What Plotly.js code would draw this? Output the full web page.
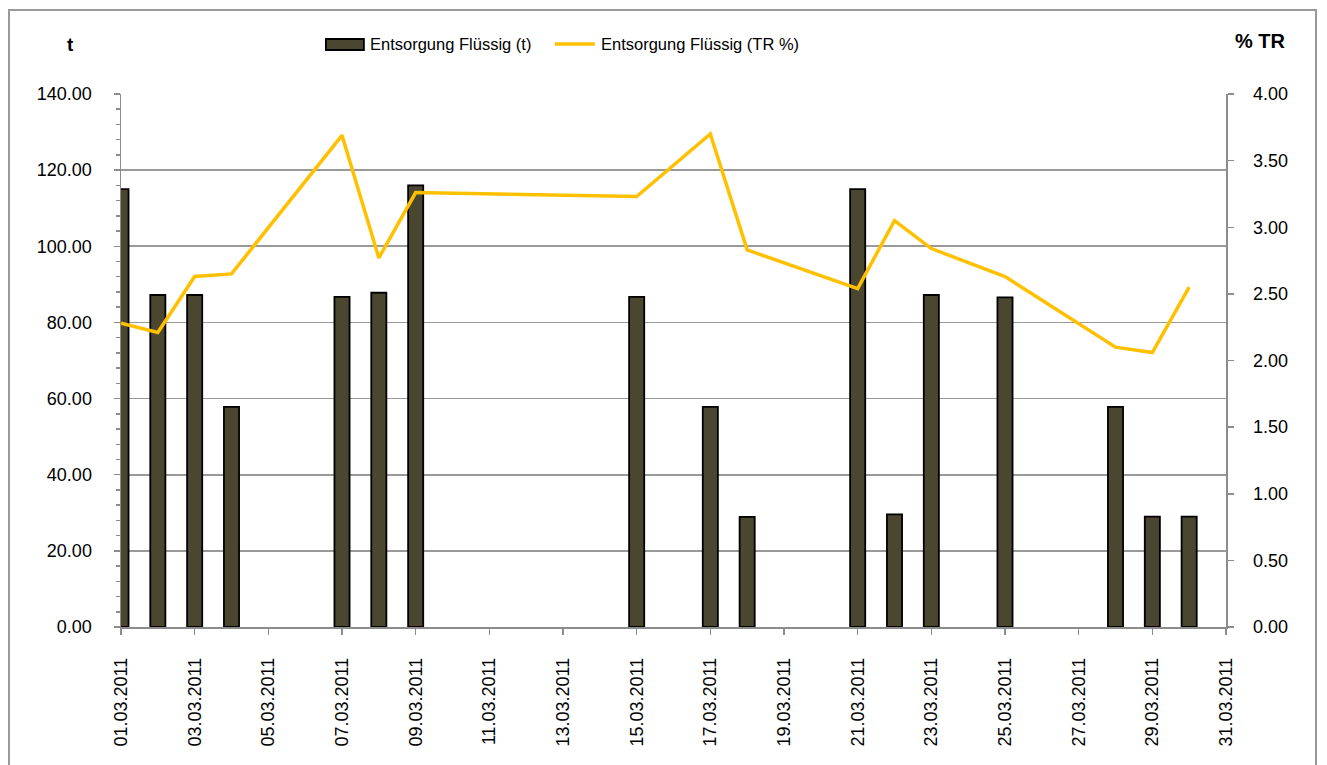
<!DOCTYPE html>
<html>
<head>
<meta charset="utf-8">
<script src="https://cdn.plot.ly/plotly-3.0.1.min.js"></script>
<style>
html,body{margin:0;padding:0;background:#fff;}
#wrap{position:relative;width:1327px;height:765px;overflow:hidden;}
#chart{width:1327px;height:765px;}
#frame{position:absolute;left:8px;top:9px;width:1309px;height:800px;border:2px solid #999;pointer-events:none;box-sizing:border-box;}
</style>
</head>
<body>
<div id="wrap"><div id="chart"></div><div id="frame"></div></div>
<script>
// Data
const dates = ['2011-03-01','2011-03-02','2011-03-03','2011-03-04','2011-03-07','2011-03-08','2011-03-09','2011-03-15','2011-03-17','2011-03-18','2011-03-21','2011-03-22','2011-03-23','2011-03-25','2011-03-28','2011-03-29','2011-03-30'];
const tonnes = [115.0, 87.2, 87.2, 57.8, 86.7, 87.8, 116.0, 86.7, 57.8, 28.9, 115.0, 29.6, 87.2, 86.6, 57.8, 29.0, 29.0];
const trPercent = [2.28, 2.21, 2.63, 2.65, 3.69, 2.77, 3.26, 3.23, 3.70, 2.83, 2.54, 3.05, 2.84, 2.63, 2.10, 2.06, 2.55];
const seriesNames = ['Entsorgung Flüssig (t)', 'Entsorgung Flüssig (TR %)'];
const leftTitle = 't';
const rightTitle = '% TR';

const W = 1327, H = 765;
const M = {l:121, r:100.5, t:94, b:138};
const pw = W - M.l - M.r, ph = H - M.t - M.b;
const px = x => (x - M.l) / pw;
const py = y => (H - M.b - y) / ph;

const FONT = 'Liberation Sans, Arial, sans-serif';
const barColor = '#4B4630';
const lineColor = '#FFC000';
const axisGray = '#8c8c8c';

const traces = [
  {
    type:'bar', x:dates, y:tonnes, name:seriesNames[0], yaxis:'y',
    width: 0.41*86400000,
    marker:{color:barColor, line:{color:'#000000', width:1.8}},
    showlegend:false, hoverinfo:'x+y'
  },
  {
    type:'scatter', mode:'lines', x:dates, y:trPercent, name:seriesNames[1], yaxis:'y2',
    line:{color:lineColor, width:3.5},
    showlegend:false, hoverinfo:'x+y'
  }
];

const layout = {
  width:W, height:H,
  margin:M,
  paper_bgcolor:'#ffffff', plot_bgcolor:'#ffffff',
  font:{family:FONT, size:18, color:'#000'},
  bargap:0,
  xaxis:{
    type:'date',
    range:['2011-03-01','2011-03-31'],
    tick0:'2011-03-01', dtick:2*86400000,
    tickformat:'%d.%m.%Y',
    tickangle:-90,
    ticks:'outside', ticklen:6, tickcolor:axisGray, tickwidth:1.5,
    showline:true, linecolor:axisGray, linewidth:1.5,
    showgrid:false, zeroline:false,
    ticklabelstandoff:16,
    tickfont:{family:FONT, size:18, color:'#000'}
  },
  yaxis:{
    range:[0,140], dtick:20, tick0:0,
    tickformat:'.2f',
    ticks:'outside', ticklen:6, tickcolor:axisGray, tickwidth:1.5,
    minor:{dtick:4, ticks:'outside', ticklen:4, tickcolor:axisGray, tickwidth:1.5, showgrid:false},
    showline:true, linecolor:axisGray, linewidth:1.5,
    showgrid:true, gridcolor:'#999999', gridwidth:1.8,
    zeroline:false,
    ticklabelstandoff:18,
    tickfont:{family:FONT, size:18, color:'#000'}
  },
  yaxis2:{
    overlaying:'y', side:'right',
    range:[0,4], dtick:0.5, tick0:0,
    tickformat:'.2f',
    ticks:'outside', ticklen:6, tickcolor:axisGray, tickwidth:1.5,
    showline:true, linecolor:axisGray, linewidth:1.5,
    showgrid:false, zeroline:false,
    ticklabelstandoff:16,
    tickfont:{family:FONT, size:18, color:'#000'}
  },
  shapes:[
    {type:'rect', xref:'paper', yref:'paper', x0:px(326), x1:px(364), y0:py(50), y1:py(39),
     fillcolor:barColor, line:{color:'#000', width:1.8}},
    {type:'line', xref:'paper', yref:'paper', x0:px(555), x1:px(595), y0:py(44), y1:py(44),
     line:{color:lineColor, width:3.5}}
  ],
  annotations:[
    {text:seriesNames[0], xref:'paper', yref:'paper', x:px(368), y:py(44), xanchor:'left', yanchor:'middle',
     showarrow:false, font:{family:FONT, size:16.5, color:'#000'}},
    {text:seriesNames[1], xref:'paper', yref:'paper', x:px(599), y:py(44), xanchor:'left', yanchor:'middle',
     showarrow:false, font:{family:FONT, size:16.5, color:'#000'}},
    {text:'<b>'+leftTitle+'</b>', xref:'paper', yref:'paper', x:px(70), y:py(44), xanchor:'center', yanchor:'middle',
     showarrow:false, font:{family:FONT, size:19, color:'#000'}},
    {text:'<b>'+rightTitle+'</b>', xref:'paper', yref:'paper', x:px(1261), y:py(41), xanchor:'center', yanchor:'middle',
     showarrow:false, font:{family:FONT, size:20, color:'#000'}}
  ]
};

Plotly.newPlot('chart', traces, layout, {displayModeBar:false, staticPlot:true});
</script>
</body>
</html>
